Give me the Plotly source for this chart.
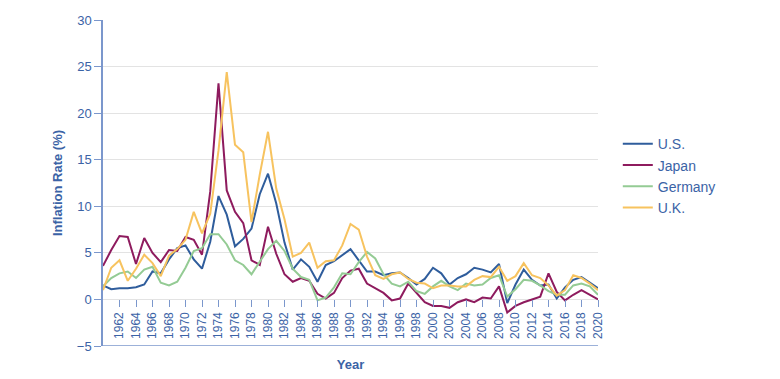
import plotly.graph_objects as go

years = list(range(1960, 2021))

us = [1.5, 1.1, 1.2, 1.2, 1.3, 1.6, 3.0, 2.8, 4.3, 5.5,
      5.8, 4.3, 3.3, 6.2, 11.1, 9.1, 5.7, 6.5, 7.6, 11.3,
      13.5, 10.3, 6.1, 3.2, 4.3, 3.5, 1.9, 3.7, 4.1, 4.8,
      5.4, 4.2, 3.0, 3.0, 2.6, 2.8, 2.9, 2.3, 1.6, 2.2,
      3.4, 2.8, 1.6, 2.3, 2.7, 3.4, 3.2, 2.9, 3.8, -0.4,
      1.6, 3.2, 2.1, 1.5, 1.6, 0.1, 1.3, 2.1, 2.4, 1.8,
      1.2]

japan = [3.6, 5.3, 6.8, 6.7, 3.8, 6.6, 5.0, 4.0, 5.3, 5.2,
         6.7, 6.4, 4.8, 11.6, 23.2, 11.7, 9.4, 8.2, 4.2, 3.7,
         7.8, 4.9, 2.7, 1.9, 2.3, 2.0, 0.6, 0.1, 0.7, 2.3,
         3.1, 3.3, 1.7, 1.2, 0.7, -0.1, 0.1, 1.7, 0.7, -0.3,
         -0.7, -0.7, -0.9, -0.3, 0.0, -0.3, 0.2, 0.1, 1.4, -1.4,
         -0.7, -0.3, 0.0, 0.3, 2.8, 0.8, -0.1, 0.5, 1.0, 0.5,
         0.0]

germany = [1.4, 2.3, 2.8, 3.0, 2.3, 3.2, 3.5, 1.8, 1.5, 1.9,
           3.4, 5.2, 5.5, 7.0, 7.0, 5.9, 4.2, 3.7, 2.7, 4.0,
           5.4, 6.3, 5.2, 3.3, 2.4, 2.1, -0.1, 0.2, 1.3, 2.8,
           2.7, 4.0, 5.1, 4.4, 2.7, 1.7, 1.4, 1.9, 0.9, 0.6,
           1.4, 2.0, 1.4, 1.0, 1.7, 1.5, 1.6, 2.3, 2.6, 0.3,
           1.1, 2.1, 2.0, 1.5, 0.9, 0.5, 0.5, 1.5, 1.7, 1.4,
           0.5]

uk = [1.0, 3.4, 4.2, 2.0, 3.3, 4.8, 3.9, 2.5, 4.7, 5.4,
      6.4, 9.4, 7.1, 9.2, 16.0, 24.4, 16.6, 15.8, 8.3, 13.4,
      18.0, 11.9, 8.6, 4.6, 5.0, 6.1, 3.4, 4.1, 4.2, 5.8,
      8.1, 7.5, 4.6, 2.6, 2.2, 2.7, 2.9, 2.2, 1.8, 1.7,
      1.2, 1.5, 1.5, 1.4, 1.4, 2.1, 2.5, 2.4, 3.5, 2.0,
      2.5, 3.9, 2.6, 2.3, 1.5, 0.4, 1.0, 2.6, 2.3, 1.7,
      1.0]

series = [
    ("U.S.", us, "#2f5d9c"),
    ("Japan", japan, "#8e1b5e"),
    ("Germany", germany, "#94cb94"),
    ("U.K.", uk, "#f7c35f"),
]

x_ticks = list(range(1962, 2021, 2))
y_ticks = list(range(-5, 31, 5))

axis_blue = "#3b63a6"
line_blue = "#7b97cc"
font_family = "Liberation Sans, Arial, sans-serif"

fig = go.Figure()
for name, vals, color in series:
    fig.add_trace(go.Scatter(x=years, y=vals, name=name, mode="lines",
                             line=dict(color=color, width=2)))

fig.update_layout(
    width=772, height=371,
    margin=dict(l=95, r=182, t=12, b=33, autoexpand=False),
    paper_bgcolor="white", plot_bgcolor="white",
    font=dict(family=font_family, color=axis_blue, size=13),
    showlegend=True,
    legend=dict(x=1.04, xanchor="left", y=0.668, yanchor="top",
                font=dict(size=14, color=axis_blue),
                bgcolor="rgba(0,0,0,0)", tracegroupgap=0),
    xaxis=dict(range=[1960, 2020], tickvals=x_ticks,
               ticktext=[str(v) for v in x_ticks],
               tickangle=-90, ticks="outside", ticklen=7, tickwidth=1,
               tickcolor=line_blue, showgrid=False, zeroline=False,
               showline=False, anchor="free", position=5 / 35,
               automargin=False,
               tickfont=dict(size=12, color=axis_blue),
               title=dict(text="<b>Year</b>", standoff=21,
                          font=dict(size=13, color=axis_blue))),
    yaxis=dict(range=[-5, 30], tickvals=y_ticks, ticks="outside",
               ticklen=7, tickwidth=1, tickcolor=line_blue,
               showgrid=True, gridcolor="#e3e3e3", gridwidth=1,
               zeroline=False, showline=True, linecolor=line_blue,
               linewidth=1.5, automargin=False,
               tickfont=dict(size=13, color=axis_blue),
               title=dict(text="<b>Inflation Rate (%)</b>", standoff=11,
                          font=dict(size=13, color=axis_blue))),
    shapes=[dict(type="line", xref="paper", yref="y", x0=0, x1=1,
                 y0=-5, y1=-5, line=dict(color=line_blue, width=1.5))],
)

fig.write_html("out.html")
